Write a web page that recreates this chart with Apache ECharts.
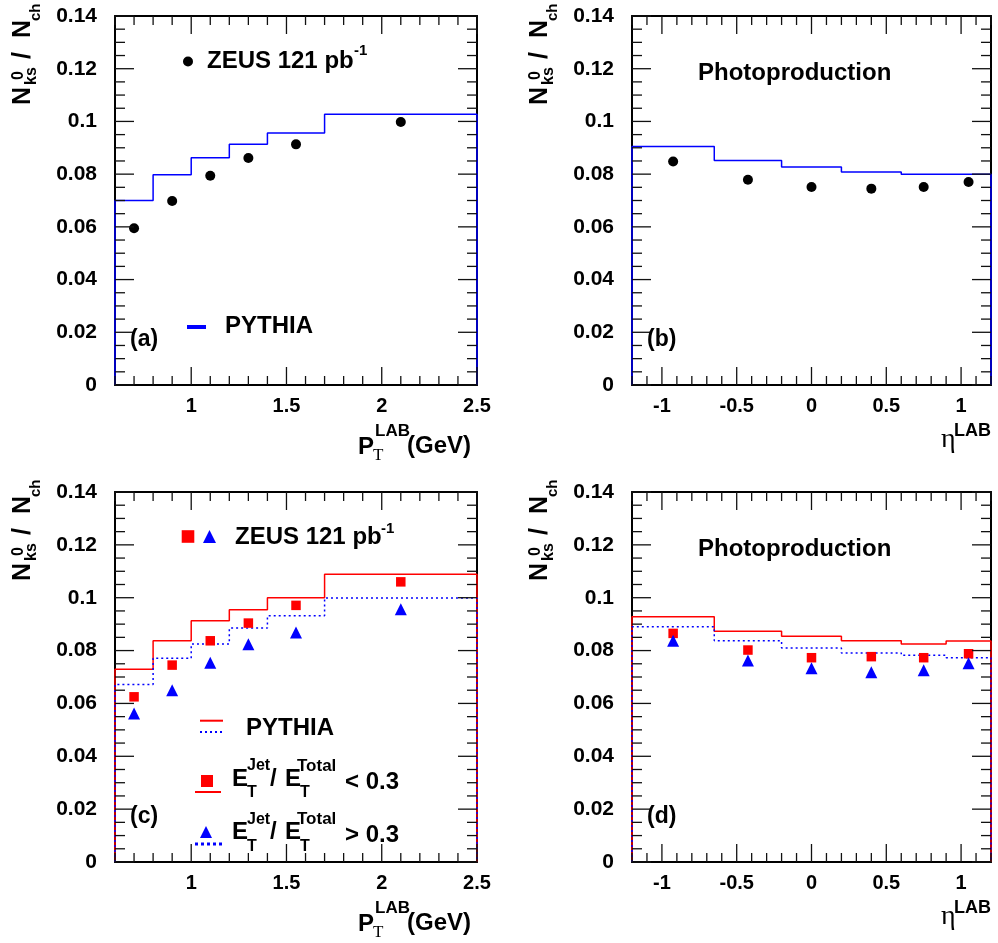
<!DOCTYPE html>
<html><head><meta charset="utf-8">
<script src="https://cdn.jsdelivr.net/npm/echarts@6/dist/echarts.min.js"></script>
<style>html,body{margin:0;padding:0;background:#fff}#c{width:998px;height:943px}</style>
</head><body><div id="c"></div>
<script>
// ---------- data ----------
const ptEdges   = [0.6, 0.8, 1.0, 1.2, 1.4, 1.7, 2.5];
const ptCenters = [0.7, 0.9, 1.1, 1.3, 1.55, 2.1];
const etaEdges  = [-1.2, -0.65, -0.2, 0.2, 0.6, 0.9, 1.2];
const etaCenters= [-0.925, -0.425, 0.0, 0.4, 0.75, 1.05];
const ptTicks   = [1, 1.5, 2, 2.5];
const etaTicks  = [-1, -0.5, 0, 0.5, 1];

// (a)
const zeusPt     = [0.0595, 0.0698, 0.0794, 0.0861, 0.0913, 0.0998];
const pythiaPt   = [0.0700, 0.0798, 0.0862, 0.0913, 0.0956, 0.1027];
// (b)
const zeusEta    = [0.0848, 0.0779, 0.0751, 0.0745, 0.0751, 0.0770];
const pythiaEta  = [0.0905, 0.0852, 0.0827, 0.0808, 0.0800, 0.0800];
// (c)
const lowPt        = [0.0625, 0.0745, 0.0837, 0.0904, 0.0971, 0.1060];
const pythiaLowPt  = [0.0729, 0.0837, 0.0913, 0.0954, 0.1000, 0.1089];
const highPt       = [0.0562, 0.0650, 0.0754, 0.0824, 0.0868, 0.0956];
const pythiaHighPt = [0.0672, 0.0771, 0.0825, 0.0885, 0.0932, 0.0999];
// (d)
const lowEta        = [0.0865, 0.0802, 0.0773, 0.0777, 0.0773, 0.0788];
const pythiaLowEta  = [0.0928, 0.0873, 0.0854, 0.0837, 0.0825, 0.0836];
const highEta       = [0.0837, 0.0762, 0.0733, 0.0718, 0.0726, 0.0752];
const pythiaHighEta = [0.0890, 0.0837, 0.0810, 0.0791, 0.0782, 0.0773];

// ---------- helpers ----------
const SANS = '"Liberation Sans", Arial, Helvetica, sans-serif';
const SERIF = '"Liberation Serif", "Times New Roman", serif';
const BLUE = '#0000ff', RED = '#ff0000';
const YMIN = 0, YMAX = 0.14;

function hist(edges, vals) {
  const pts = [[edges[0], 0]];
  for (let i = 0; i < vals.length; i++) { pts.push([edges[i], vals[i]]); pts.push([edges[i+1], vals[i]]); }
  pts.push([edges[edges.length-1], 0]);
  return pts;
}
function pairs(xs, ys) { return xs.map((x, i) => [x, ys[i]]); }
const r6 = v => Math.round(v * 1e6) / 1e6;

const grids = [
  {left:115, top:16,  width:362, height:369},
  {left:632, top:16,  width:359, height:369},
  {left:115, top:492, width:362, height:370},
  {left:632, top:492, width:359, height:370}
];
const xr = [[0.6,2.5],[-1.2,1.2],[0.6,2.5],[-1.2,1.2]];
const xm = [ptTicks, etaTicks, ptTicks, etaTicks];

const xAxis = [], yAxis = [];
grids.forEach((g, i) => {
  ['bottom','top'].forEach(pos => {
    xAxis.push({gridIndex:i, type:'value', position:pos, min:xr[i][0], max:xr[i][1],
      splitLine:{show:false}, animation:false, silent:true,
      axisLine:{show:true, onZero:false, lineStyle:{color:'#000', width:2}},
      axisTick:{show:false},
      axisLabel:{show:pos==='bottom', customValues:xm[i], color:'#000', fontSize:20, fontWeight:'bold', fontFamily:SANS, margin:11}
    });
  });
  ['left','right'].forEach(pos => {
    yAxis.push({gridIndex:i, type:'value', position:pos, min:YMIN, max:YMAX, interval:0.02,
      animation:false, silent:true, splitLine:{show:false},
      axisLine:{show:true, onZero:false, lineStyle:{color:'#000', width:2}},
      axisTick:{show:false}, minorTick:{show:false},
      axisLabel:{show:pos==='left', color:'#000', fontSize:21, fontWeight:'bold', fontFamily:SANS, margin:18}
    });
  });
});

function lineS(i, data, color, dash) {
  return {type:'line', xAxisIndex:2*i, yAxisIndex:2*i, data, symbol:'none', showSymbol:false,
    clip:false, animation:false, z:3,
    lineStyle:{color, width:1.5, opacity:1, type: dash ? [2,3] : 'solid'}};
}
function ptsS(i, data, symbol, size, color) {
  return {type:'scatter', xAxisIndex:2*i, yAxisIndex:2*i, data, symbol, symbolSize:size,
    clip:false, animation:false, z:4, itemStyle:{color, opacity:1}};
}

const series = [
  lineS(0, hist(ptEdges, pythiaPt), BLUE),
  ptsS(0, pairs(ptCenters, zeusPt), 'circle', 10, '#000'),
  lineS(1, hist(etaEdges, pythiaEta), BLUE),
  ptsS(1, pairs(etaCenters, zeusEta), 'circle', 10, '#000'),
  lineS(2, hist(ptEdges, pythiaLowPt), RED),
  lineS(2, hist(ptEdges, pythiaHighPt), BLUE, true),
  ptsS(2, pairs(ptCenters, lowPt), 'rect', 9.5, RED),
  ptsS(2, pairs(ptCenters, highPt), 'triangle', 12, BLUE),
  lineS(3, hist(etaEdges, pythiaLowEta), RED),
  lineS(3, hist(etaEdges, pythiaHighEta), BLUE, true),
  ptsS(3, pairs(etaCenters, lowEta), 'rect', 9.5, RED),
  ptsS(3, pairs(etaCenters, highEta), 'triangle', 12, BLUE)
];

// ---------- text / legend graphics ----------
function T(x, y, text, size, o) {
  o = o || {};
  const font = (o.weight || 'bold') + ' ' + size + 'px ' + (o.family || SANS);
  return {type:'text', x, y, rotation:o.rot || 0, silent:true, z:10,
    style:{text, font, fill:o.color || '#000', align:'left', verticalAlign:'middle',
           textAlign:'left', textVerticalAlign:'middle'}};
}
const G = [];
[[0,0],[517,0],[0,476],[517,476]].forEach(([dx,dy]) => {
  const R = {rot:Math.PI/2};
  G.push(T(23+dx, 105+dy, 'N', 25, R));
  G.push(T(32+dx, 85+dy, 'ks', 16, R));
  G.push(T(19+dx, 80+dy, '0', 16, R));
  G.push(T(23+dx, 59+dy, '/', 25, R));
  G.push(T(23+dx, 38+dy, 'N', 25, R));
  G.push(T(36+dx, 21+dy, 'ch', 15, R));
});
[0, 477].forEach(dy => {
  G.push(T(358, 447.5+dy, 'P', 24));
  G.push(T(373, 455.5+dy, 'T', 17, {weight:'normal', family:SERIF}));
  G.push(T(375, 431+dy, 'LAB', 17));
  G.push(T(407, 446.5+dy, '(GeV)', 24));
  G.push(T(941, 440+dy, 'η', 28, {weight:'normal', family:SERIF}));
  G.push(T(954, 431+dy, 'LAB', 18));
});
G.push(T(130, 340, '(a)', 23));
G.push(T(647, 340, '(b)', 23));
G.push(T(130, 817, '(c)', 23));
G.push(T(647, 817, '(d)', 23));
G.push(T(698, 73.5, 'Photoproduction', 24));
G.push(T(698, 549.5, 'Photoproduction', 24));
G.push({type:'circle', shape:{cx:188, cy:61.5, r:5}, style:{fill:'#000'}, z:10});
G.push(T(207, 61, 'ZEUS 121 pb', 24));
G.push(T(354, 50.5, '-1', 15));
G.push({type:'rect', shape:{x:187, y:325, width:19, height:4}, style:{fill:BLUE}, z:10});
G.push(T(225, 326.5, 'PYTHIA', 24));
G.push({type:'rect', shape:{x:181.7, y:530.2, width:12.6, height:12.6}, style:{fill:RED}, z:10});
G.push({type:'polygon', shape:{points:[[203,543],[216,543],[209.5,530]]}, style:{fill:BLUE}, z:10});
G.push(T(235, 537.5, 'ZEUS 121 pb', 24));
G.push(T(381, 529, '-1', 15));
G.push({type:'line', shape:{x1:200, y1:720.7, x2:223, y2:720.7}, style:{stroke:RED, lineWidth:2}, z:10});
G.push({type:'line', shape:{x1:200, y1:732, x2:223, y2:732}, style:{stroke:BLUE, lineWidth:2, lineDash:[2,3]}, z:10});
G.push(T(246, 728, 'PYTHIA', 24));
G.push({type:'rect', shape:{x:201, y:775, width:12, height:12}, style:{fill:RED}, z:10});
G.push({type:'line', shape:{x1:195, y1:792, x2:221, y2:792}, style:{stroke:RED, lineWidth:2}, z:10});
G.push({type:'polygon', shape:{points:[[200,838],[212,838],[206,826]]}, style:{fill:BLUE}, z:10});
G.push({type:'line', shape:{x1:195, y1:844, x2:224, y2:844}, style:{stroke:BLUE, lineWidth:3, lineDash:[3,3]}, z:10});
[0, 53.5].forEach((dy, k) => {
  G.push(T(232, 779+dy, 'E', 24));
  G.push(T(247, 793+dy, 'T', 16));
  G.push(T(247, 766+dy, 'Jet', 16));
  G.push(T(270, 779+dy, '/', 24));
  G.push(T(285, 779+dy, 'E', 24));
  G.push(T(300, 793+dy, 'T', 16));
  G.push(T(297, 766+dy, 'Total', 17));
  G.push(T(345, 782+dy, k === 0 ? '< 0.3' : '> 0.3', 24));
});

const chart = echarts.init(document.getElementById('c'), null, {renderer:'canvas'});
chart.setOption({
  animation:false,
  backgroundColor:'#fff',
  grid: grids.map(g => Object.assign({show:false, containLabel:false}, g)),
  xAxis, yAxis, series,
  graphic: {elements: G}
});

// ---------- tick marks, placed through the axes' scales ----------
const TK = [];
function tick(i, x, y, dx, dy) {
  const p = chart.convertToPixel({xAxisIndex:2*i, yAxisIndex:2*i}, [x, y]);
  TK.push({type:'line', silent:true, z:9,
    shape:{x1:p[0], y1:p[1], x2:p[0] + dx, y2:p[1] + dy},
    style:{stroke:'#111', lineWidth:1.3}});
}
grids.forEach((g, i) => {
  const [a, b] = xr[i];
  for (let k = 0; k <= 28; k++) {
    const v = r6(k * 0.005), len = (k % 4 === 0) ? 19 : 10;
    tick(i, a, v, len, 0);
    tick(i, b, v, -len, 0);
  }
  const n = Math.round((b - a) / 0.1);
  for (let k = 0; k <= n; k++) {
    const v = r6(a + k * 0.1);
    const len = xm[i].some(t => Math.abs(t - v) < 1e-6) ? 18 : 9;
    tick(i, v, YMIN, 0, -len);
    tick(i, v, YMAX, 0, len);
  }
});
chart.setOption({graphic: {elements: G.concat(TK)}});
</script>
</body></html>
